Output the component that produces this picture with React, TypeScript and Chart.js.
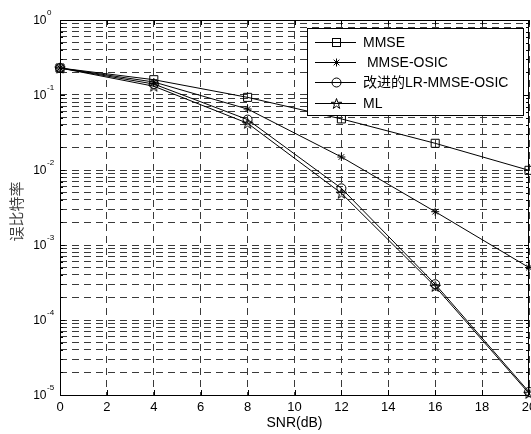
import React, { useEffect, useRef } from "react";
import { Chart, registerables } from "chart.js";

Chart.register(...registerables);

const snr = [0, 4, 8, 12, 16, 20];
const mmse = [0.229, 0.16, 0.093, 0.048, 0.0227, 0.0099];
const mmseOsic = [0.229, 0.149, 0.065, 0.0149, 0.00278, 0.0005];
const lrMmseOsic = [0.229, 0.14, 0.047, 0.0057, 0.0003, 0.000011];
const ml = [0.229, 0.131, 0.042, 0.0049, 0.00028, 0.0000105];

const seriesLabels = ["MMSE", " MMSE-OSIC", "改进的LR-MMSE-OSIC", "ML"];
const xTickValues = [0, 2, 4, 6, 8, 10, 12, 14, 16, 18, 20];
const xTickLabels = ["0", "2", "4", "6", "8", "10", "12", "14", "16", "18", "20"];
const yDecadeExponents = [0, -1, -2, -3, -4, -5];
const yMinorMultipliers = [1, 2, 3, 4, 5, 6, 7, 8, 9];
const xTitle = "SNR(dB)";
const yTitle = "误比特率";

const LATIN = "'Liberation Sans', Arial, 'Noto Sans CJK SC', sans-serif";
const CJK = "'Noto Sans CJK SC', 'Liberation Sans', sans-serif";

function pentagramPath(ctx: CanvasRenderingContext2D, cx: number, cy: number, R: number) {
  const r = R * 0.382;
  ctx.beginPath();
  for (let i = 0; i < 10; i++) {
    const ang = -Math.PI / 2 + (i * Math.PI) / 5;
    const rad = i % 2 === 0 ? R : r;
    const px = cx + rad * Math.cos(ang);
    const py = cy + rad * Math.sin(ang);
    if (i === 0) ctx.moveTo(px, py);
    else ctx.lineTo(px, py);
  }
  ctx.closePath();
}

function makePentagram(): HTMLCanvasElement {
  const c = document.createElement("canvas");
  c.width = 13;
  c.height = 13;
  const ctx = c.getContext("2d")!;
  ctx.strokeStyle = "#000";
  ctx.lineWidth = 1;
  pentagramPath(ctx, 6.5, 7, 5.5);
  ctx.stroke();
  return c;
}

function drawMarker(ctx: CanvasRenderingContext2D, kind: string, x: number, y: number) {
  ctx.save();
  ctx.strokeStyle = "#000";
  ctx.lineWidth = 1;
  if (kind === "rect") {
    ctx.strokeRect(x - 4, y - 4, 8, 8);
  } else if (kind === "circle") {
    ctx.beginPath();
    ctx.arc(x, y, 4.5, 0, Math.PI * 2);
    ctx.stroke();
  } else if (kind === "star") {
    const r = 4;
    ctx.beginPath();
    ctx.moveTo(x - r, y);
    ctx.lineTo(x + r, y);
    ctx.moveTo(x, y - r);
    ctx.lineTo(x, y + r);
    const d = r * Math.SQRT1_2;
    ctx.moveTo(x - d, y - d);
    ctx.lineTo(x + d, y + d);
    ctx.moveTo(x - d, y + d);
    ctx.lineTo(x + d, y - d);
    ctx.stroke();
  } else {
    pentagramPath(ctx, x, y + 0.5, 5.5);
    ctx.stroke();
  }
  ctx.restore();
}

const markerKinds = ["rect", "star", "circle", "pentagram"];

export default function App() {
  const ref = useRef<HTMLCanvasElement | null>(null);

  useEffect(() => {
    document.body.style.margin = "0";
    const canvas = ref.current;
    if (!canvas) return;
    const pent = makePentagram();
    const seriesValues = [mmse, mmseOsic, lrMmseOsic, ml];
    const pointStyles: any[] = ["rect", "star", "circle", pent];
    const radii = [5.7, 4, 4.5, 6];

    const yTickValues: number[] = [];
    yDecadeExponents.forEach((e) => {
      yMinorMultipliers.forEach((m) => {
        const v = m * Math.pow(10, e);
        if (v <= 1.0000001 && v >= 0.99999e-5) yTickValues.push(v);
      });
    });

    const overlay = {
      id: "overlay",
      afterDraw(chart: any) {
        const ctx: CanvasRenderingContext2D = chart.ctx;
        const { left, right, top, bottom } = chart.chartArea;
        const xs = chart.scales.x;
        const ys = chart.scales.y;
        ctx.save();
        // inward tick marks
        ctx.strokeStyle = "#000";
        ctx.lineWidth = 1;
        ctx.beginPath();
        xTickValues.forEach((v) => {
          const px = Math.round(xs.getPixelForValue(v)) + 0.5;
          ctx.moveTo(px, bottom);
          ctx.lineTo(px, bottom - 5);
          ctx.moveTo(px, top);
          ctx.lineTo(px, top + 5);
        });
        yTickValues.forEach((v) => {
          const py = Math.round(ys.getPixelForValue(v)) + 0.5;
          const major = Math.abs(Math.log10(v) - Math.round(Math.log10(v))) < 1e-6;
          const len = major ? 5 : 3;
          ctx.moveTo(left, py);
          ctx.lineTo(left + len, py);
          ctx.moveTo(right, py);
          ctx.lineTo(right - len, py);
        });
        ctx.stroke();
        // frame
        ctx.strokeRect(Math.round(left) + 0.5, Math.round(top) + 0.5, Math.round(right - left) - 1, Math.round(bottom - top));

        // x tick labels
        ctx.fillStyle = "#000";
        ctx.font = `13px ${LATIN}`;
        ctx.textAlign = "center";
        ctx.textBaseline = "middle";
        xTickValues.forEach((v, i) => {
          ctx.fillText(xTickLabels[i], xs.getPixelForValue(v), bottom + 12);
        });
        // x title
        ctx.font = `14px ${LATIN}`;
        ctx.fillText(xTitle, (left + right) / 2, bottom + 28);

        // y tick labels
        yDecadeExponents.forEach((e) => {
          const py = ys.getPixelForValue(Math.pow(10, e));
          ctx.font = `12px ${LATIN}`;
          ctx.textAlign = "right";
          ctx.textBaseline = "middle";
          ctx.fillText("10", 46.5, py + 0.5);
          ctx.font = `8px ${LATIN}`;
          ctx.textAlign = "left";
          ctx.fillText(String(e), 47, py - 7.5);
        });

        // y title
        ctx.save();
        ctx.translate(16, (top + bottom) / 2 + 4);
        ctx.rotate(-Math.PI / 2);
        ctx.font = `15px ${CJK}`;
        ctx.fillStyle = "#444";
        ctx.textAlign = "center";
        ctx.textBaseline = "middle";
        ctx.fillText(yTitle, 0, 0);
        ctx.restore();

        // legend
        const bx = 307.5, by = 28.5, bw = 216, bh = 87;
        ctx.fillStyle = "#fff";
        ctx.fillRect(bx, by, bw, bh);
        ctx.strokeStyle = "#000";
        ctx.strokeRect(bx, by, bw, bh);
        const rows = [42, 62, 82, 103];
        chart.data.datasets.forEach((ds: any, i: number) => {
          const ry = rows[i] + 0.5;
          ctx.beginPath();
          ctx.strokeStyle = "#000";
          ctx.moveTo(315, ry);
          ctx.lineTo(356, ry);
          ctx.stroke();
          drawMarker(ctx, markerKinds[i], 336.5, ry);
          ctx.fillStyle = "#000";
          ctx.font = `14px ${LATIN}`;
          ctx.textAlign = "left";
          ctx.textBaseline = "middle";
          ctx.fillText(ds.label, 363, ry + 1);
        });
        ctx.restore();
      },
    };

    const chart = new Chart(canvas, {
      type: "line",
      data: {
        datasets: seriesValues.map((vals, i) => ({
          label: seriesLabels[i],
          data: snr.map((x, j) => ({ x, y: vals[j] })),
          borderColor: "#000",
          borderWidth: 1,
          backgroundColor: "rgba(0,0,0,0)",
          pointBackgroundColor: "rgba(0,0,0,0)",
          pointBorderColor: "#000",
          pointBorderWidth: 1,
          pointStyle: pointStyles[i],
          pointRadius: radii[i],
          tension: 0,
          fill: false,
          clip: false as any,
        })),
      },
      options: {
        responsive: false,
        animation: false,
        layout: { autoPadding: false, padding: { left: 60, top: 20, right: 2, bottom: 39 } },
        plugins: { legend: { display: false }, tooltip: { enabled: false } },
        events: [],
        scales: {
          x: {
            type: "linear",
            min: 0,
            max: 20,
            afterBuildTicks: (scale: any) => {
              scale.ticks = xTickValues.map((v) => ({ value: v }));
            },
            ticks: { display: false },
            grid: { color: "#3a3a3a", lineWidth: 1, drawTicks: false },
            border: { display: false, dash: [7, 5] },
            title: { display: false },
          },
          y: {
            type: "logarithmic",
            min: 1e-5,
            max: 1,
            afterBuildTicks: (scale: any) => {
              scale.ticks = yTickValues.map((v) => ({ value: v }));
            },
            ticks: { display: false },
            grid: { color: "#3a3a3a", lineWidth: 1, drawTicks: false },
            border: { display: false, dash: [7, 5] },
            title: { display: false },
          },
        },
      },
      plugins: [overlay],
    } as any);

    return () => chart.destroy();
  }, []);

  return (
    <div style={{ position: "absolute", left: 0, top: 0, width: 531, height: 434, background: "#fff" }}>
      <canvas ref={ref} width={531} height={434} style={{ width: 531, height: 434, display: "block" }} />
    </div>
  );
}
